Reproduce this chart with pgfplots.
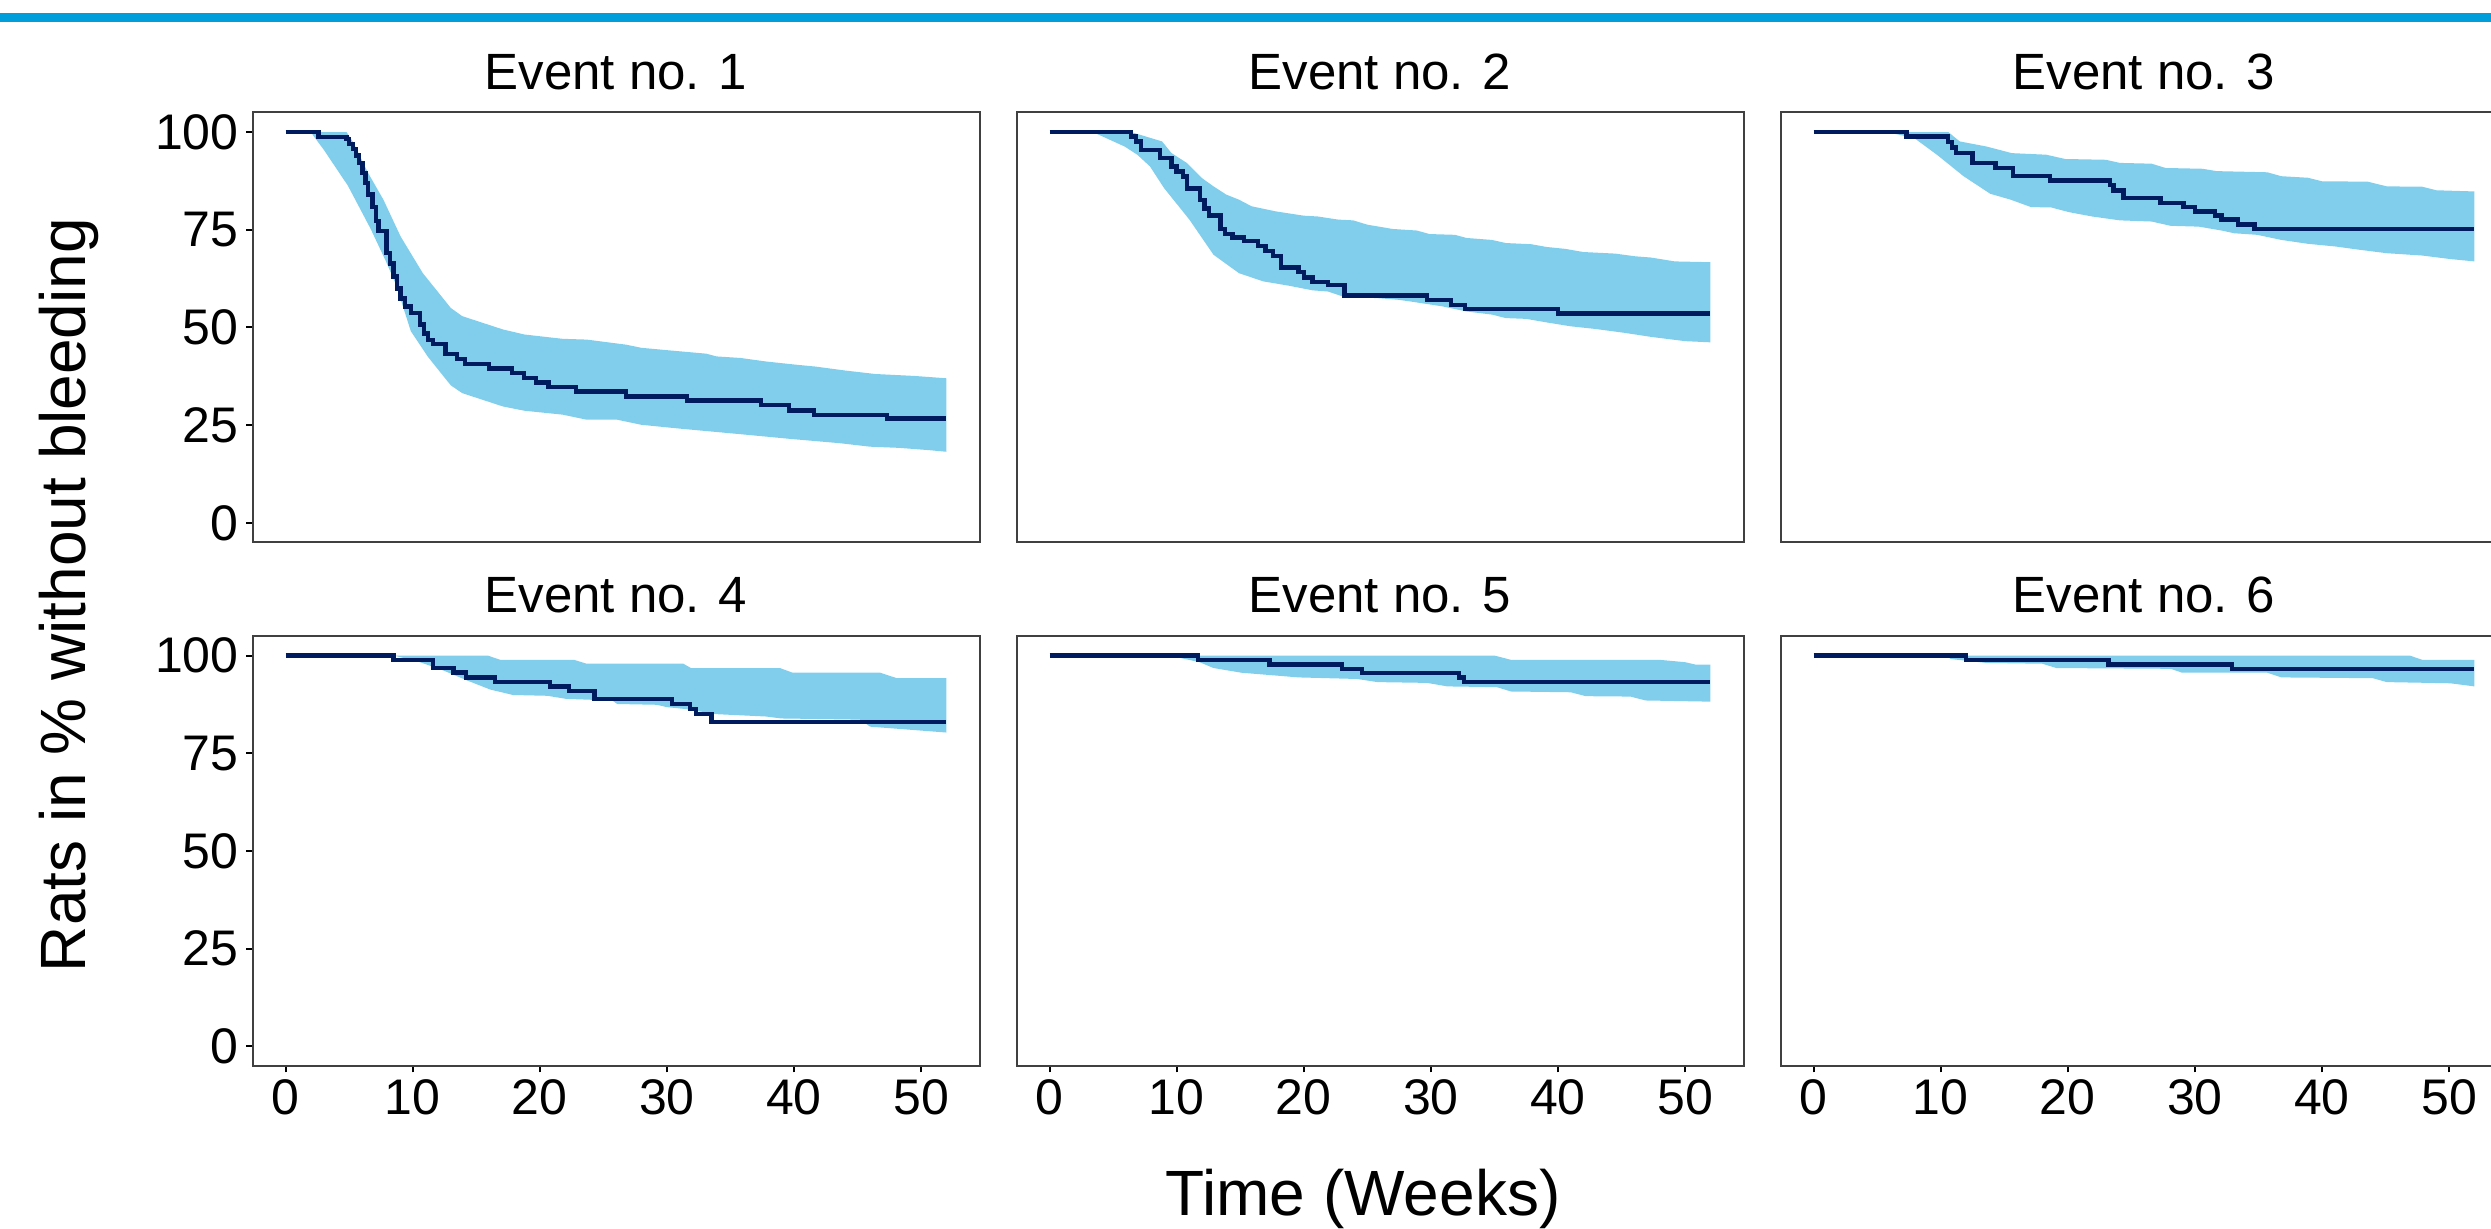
\documentclass[border=0pt]{standalone}
\usepackage{fontspec}
\setmainfont{Liberation Sans}
\usepackage{pgfplots}
\pgfplotsset{compat=1.18}
\definecolor{kmline}{RGB}{0,28,95}
\definecolor{kmband}{RGB}{128,206,235}
\definecolor{topbar}{RGB}{0,158,219}

\pgfplotsset{
  km/.style={
    scale only axis, width=363.5pt, height=215pt,
    xmin=-2.6, xmax=54.6, ymin=-5, ymax=105,
    axis line style={draw=black!75, line width=1pt},
    tick style={black, line width=1pt},
    tick align=outside, major tick length=3.25pt,
    xtick={0,10,...,50}, ytick={0,25,50,75,100},
    xtick pos=left, ytick pos=left,
    /pgf/number format/assume math mode=true,
    ticklabel style={font=\fontsize{25}{30}\selectfont},
    yticklabel style={inner sep=0pt, xshift=-3.5pt},
    xticklabel style={inner sep=0pt, yshift=-3.5pt},
    title style={at={(0.5,1)}, anchor=base, yshift=5.5pt, inner sep=0pt,
                 font=\fontsize{25.5}{30}\selectfont},
  },
  notx/.style={xtick=\empty},
  noty/.style={ytick=\empty},
  band/.style={fill=kmband, draw=none},
  surv/.style={const plot, kmline, line width=2.2pt},
}

\begin{document}
\begin{tikzpicture}
\fill[topbar] (0,603.6pt) rectangle (1245.5pt,607.9pt);

% ---- Event no. 1   (band: upper limit left to right, then lower limit right to left)
\begin{axis}[km, notx, title={Event no. 1}, at={(126.25pt,343.25pt)}, anchor=south west]
  \addplot[band] coordinates {(0,100) (4.8,100) (5.35,97.2) (6.5,89.5) (7.7,82.7) (9.05,73.3) (10.8,63.9) (13.0,55.0) (13.9,52.9) (17.1,49.5) (18.8,48.2) (21.8,47.1) (23.7,46.9) (26.8,45.6) (28.0,44.8) (30.0,44.2) (33.1,43.3) (33.9,42.6) (35.8,42.2) (37.8,41.3) (40.1,40.5) (41.7,40.0) (44.0,39.0) (46.4,38.1) (49.5,37.6) (52,37.0)
    (52,18.2) (50.7,18.6) (48.3,19.2) (46.0,19.5) (43.6,20.4) (39.7,21.5) (35.8,22.7) (31.1,24.1) (28.0,25.1) (26.1,26.4) (23.7,26.4) (21.8,27.7) (18.8,28.7) (17.1,29.8) (13.9,33.2) (13.0,35.2) (11.2,42.5) (9.85,49.1) (8.7,60.9) (7.9,66.9) (6.7,75.2) (4.9,86.3) (3.0,95.5) (2.2,99.0) (2.0,100) (0,100)} -- cycle;
  \addplot[surv] coordinates {(0,100) (2.6,98.8) (4.8,98.2) (5.0,97.0) (5.3,95.7) (5.55,94.0) (5.8,92.0) (6.05,89.5) (6.3,86.9) (6.5,84.0) (6.85,80.8) (7.1,77.3) (7.3,74.7) (7.95,69.0) (8.2,66.4) (8.5,63.0) (8.75,60.0) (9.05,57.4) (9.4,55.4) (9.85,53.7) (10.6,50.8) (10.9,48.5) (11.2,46.8) (11.6,45.7) (12.6,43.2) (13.5,41.9) (14.1,40.7) (16.0,39.5) (17.8,38.3) (18.75,37.1) (19.7,35.9) (20.7,34.8) (22.85,33.6) (26.8,32.3) (31.6,31.3) (37.4,30.1) (39.6,28.8) (41.6,27.6) (47.3,26.7) (52,26.7)};
\end{axis}

% ---- Event no. 2
\begin{axis}[km, notx, noty, title={Event no. 2}, at={(508.25pt,343.25pt)}, anchor=south west]
  \addplot[band] coordinates {(0,100) (6.4,100) (8.85,97.6) (9.6,94.6) (10.8,92.1) (12.0,88.2) (12.9,86.1) (13.9,84.0) (14.9,82.7) (15.9,81.0) (17.8,79.7) (20.0,78.6) (21.1,78.4) (22.7,77.6) (23.9,77.4) (25.0,76.3) (27.0,75.2) (28.9,74.8) (29.9,73.9) (31.9,73.7) (32.8,72.9) (34.8,72.4) (35.9,71.6) (37.9,71.3) (39.1,70.6) (40.6,70.1) (42.0,69.3) (44.5,68.9) (46.1,68.2) (47.3,67.9) (49.2,66.9) (52,66.7)
    (52,46.2) (50.0,46.5) (47.3,47.6) (45.3,48.6) (43.0,49.6) (41.0,50.3) (39.1,51.3) (37.5,52.2) (35.9,52.4) (34.8,53.3) (32.8,54.1) (30.9,55.4) (30.1,55.8) (28.5,56.6) (27.4,57.1) (25.8,57.5) (23.1,57.9) (21.9,59.2) (20.7,59.5) (18.8,60.7) (16.8,61.8) (14.9,63.9) (12.9,68.6) (11.0,77.6) (9.0,85.7) (7.9,91.2) (6.9,94.2) (5.9,96.3) (3.4,100) (0,100)} -- cycle;
  \addplot[surv] coordinates {(0,100) (6.4,98.9) (6.8,97.6) (7.2,95.4) (8.7,93.3) (9.6,91.2) (10.0,89.9) (10.5,88.6) (10.8,85.6) (11.85,82.6) (12.2,80.4) (12.55,78.6) (13.45,75.2) (13.8,73.9) (14.4,73.0) (15.3,72.1) (16.4,70.8) (17.0,69.5) (17.6,68.3) (18.2,65.3) (19.6,64.2) (20.0,62.8) (20.7,61.6) (21.9,60.8) (23.2,58.2) (29.7,57.0) (31.6,55.8) (32.7,54.7) (40.0,53.6) (52,53.6)};
\end{axis}

% ---- Event no. 3
\begin{axis}[km, notx, noty, title={Event no. 3}, at={(890.25pt,343.25pt)}, anchor=south west]
  \addplot[band] coordinates {(0,100) (10.6,100) (11.5,97.6) (13.6,96.3) (15.6,94.6) (18.3,94.2) (19.8,93.1) (23.0,92.9) (24.1,92.1) (26.6,91.9) (27.7,90.8) (30.6,90.6) (31.7,90.0) (35.7,89.7) (36.8,88.7) (38.9,88.3) (40.0,87.4) (43.6,87.3) (45.1,86.1) (47.9,86.0) (49.0,85.1) (52,84.8)
    (52,66.9) (50.1,67.5) (47.9,68.4) (45.1,69.0) (42.9,69.9) (41.1,70.7) (38.9,71.4) (36.8,72.4) (34.9,73.7) (33.1,74.1) (32.1,74.8) (30.3,75.8) (28.1,76.0) (26.6,77.1) (24.1,77.4) (21.9,78.4) (20.1,79.5) (18.7,80.7) (17.1,80.8) (15.5,82.7) (13.9,84.2) (11.8,88.7) (9.7,94.2) (7.9,98.5) (5.7,100) (0,100)} -- cycle;
  \addplot[surv] coordinates {(0,100) (7.3,98.9) (10.6,97.5) (10.9,96.0) (11.2,94.6) (12.5,92.1) (14.3,90.8) (15.7,88.7) (18.6,87.6) (23.3,86.5) (23.6,85.0) (24.4,83.1) (27.3,81.8) (29.1,80.8) (30.0,79.7) (31.6,78.6) (32.1,77.6) (33.4,76.3) (34.7,75.2) (52,75.2)};
\end{axis}

% ---- Event no. 4
\begin{axis}[km, title={Event no. 4}, at={(126.25pt,81.5pt)}, anchor=south west]
  \addplot[band] coordinates {(0,100) (15.9,100) (16.9,98.9) (22.7,98.9) (23.7,97.9) (31.3,97.9) (31.9,96.8) (38.9,96.8) (39.9,95.6) (46.8,95.6) (48.1,94.2) (52,94.2)
    (52,80.3) (46.0,81.8) (45.2,83.6) (39.0,83.9) (37.8,84.4) (33.9,85.0) (31.5,86.3) (30.0,86.8) (29.2,87.4) (26.1,87.6) (25.7,88.5) (22.1,88.9) (20.6,89.7) (17.9,89.9) (16.1,91.3) (14.3,93.6) (12.4,96.2) (10.4,98.5) (8.5,100) (0,100)} -- cycle;
  \addplot[surv] coordinates {(0,100) (8.5,98.9) (11.6,96.8) (13.2,95.7) (14.2,94.4) (16.5,93.3) (20.8,92.1) (22.3,91.0) (24.3,88.9) (30.4,87.6) (31.8,86.3) (32.3,85.0) (33.5,83.0) (52,83.0)};
\end{axis}

% ---- Event no. 5
\begin{axis}[km, noty, title={Event no. 5}, at={(508.25pt,81.5pt)}, anchor=south west]
  \addplot[band] coordinates {(0,100) (35.0,100) (36.3,98.9) (48.0,98.9) (50.0,98.3) (50.8,97.7) (52,97.7)
    (52,88.2) (46.9,88.5) (45.7,89.5) (42.2,89.6) (41.0,90.6) (36.3,90.8) (35.2,91.9) (31.3,92.1) (29.7,93.0) (25.8,93.2) (24.2,94.0) (19.6,94.4) (15.1,95.6) (12.9,96.8) (11.8,98.3) (9.4,100) (0,100)} -- cycle;
  \addplot[surv] coordinates {(0,100) (11.7,98.9) (17.3,97.7) (23.0,96.6) (24.6,95.5) (32.2,94.4) (32.6,93.3) (52,93.3)};
\end{axis}

% ---- Event no. 6
\begin{axis}[km, noty, title={Event no. 6}, at={(890.25pt,81.5pt)}, anchor=south west]
  \addplot[band] coordinates {(0,100) (46.9,100) (47.9,98.9) (52,98.9)
    (52,92.1) (50.1,92.9) (45.1,93.2) (44.0,94.2) (36.8,94.4) (35.7,95.6) (29.0,95.6) (28.1,96.6) (19.1,96.8) (18.0,97.9) (13.6,98.1) (10.8,99.1) (10.4,100) (0,100)} -- cycle;
  \addplot[surv] coordinates {(0,100) (12.0,98.9) (23.2,97.7) (32.9,96.6) (52,96.6)};
\end{axis}

\node[rotate=90, anchor=base, inner sep=0pt, font=\fontsize{32}{38}\selectfont] at (42.5pt,317pt) {Rats in \% without bleeding};
\node[anchor=base, inner sep=0pt, font=\fontsize{32}{38}\selectfont] at (681.5pt,6.5pt) {Time (Weeks)};
\pgfresetboundingbox
\path[use as bounding box] (0,0) rectangle (1245.5pt,614.5pt);
\end{tikzpicture}
\end{document}
